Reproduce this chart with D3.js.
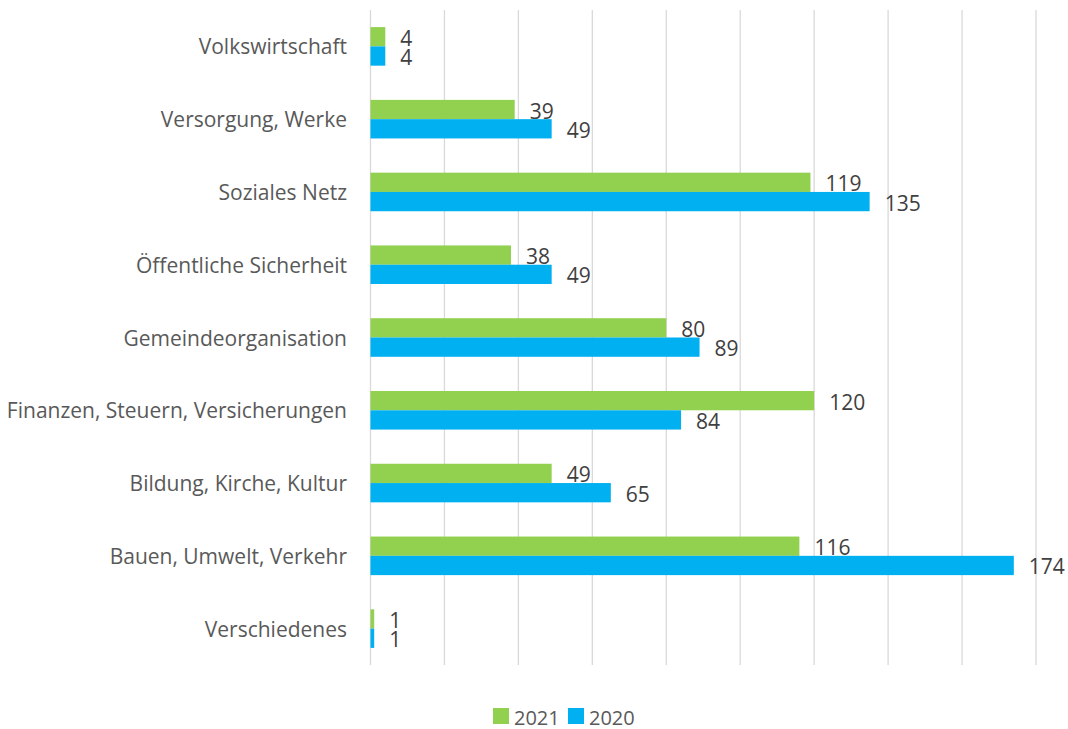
<!DOCTYPE html>
<html>
<head>
<meta charset="utf-8">
<script src="https://cdn.jsdelivr.net/npm/d3@7"></script>
<style>
  body { margin: 0; background: #fff; }
  text { font-family: "Open Sans", Lato, sans-serif; }
</style>
</head>
<body>
<svg id="chart"></svg>
<script>
const categories = ["Volkswirtschaft", "Versorgung, Werke", "Soziales Netz", "Öffentliche Sicherheit",
  "Gemeindeorganisation", "Finanzen, Steuern, Versicherungen", "Bildung, Kirche, Kultur",
  "Bauen, Umwelt, Verkehr", "Verschiedenes"]
const values2021 = [4, 39, 119, 38, 80, 120, 49, 116, 1]
const values2020 = [4, 49, 135, 49, 89, 84, 65, 174, 1]
const seriesNames = ["2021", "2020"]
const gridTicks = [0, 20, 40, 60, 80, 100, 120, 140, 160, 180]

const w = 1068, h = 729
const colors = { "2021": "#92D050", "2020": "#00B0F0" }

const svg = d3.select("#chart")
  .attr("width", w)
  .attr("height", h)

const xScale = d3.scaleLinear()
  .domain([0, 180])
  .range([370.5, 1036])

const yScale = d3.scaleBand()
  .domain(categories)
  .range([10, 665])
  .paddingInner(0.47)
  .paddingOuter(0.235)

const sub = d3.scaleBand()
  .domain(seriesNames)
  .range([0, yScale.bandwidth()])

// gridlines
svg.append("g")
  .selectAll("line")
  .data(gridTicks)
  .join("line")
  .attr("x1", d => xScale(d))
  .attr("x2", d => xScale(d))
  .attr("y1", 10)
  .attr("y2", 665)
  .attr("stroke", "#D9D9D9")
  .attr("stroke-width", 1.3)

const rows = categories.map((c, i) => ({ cat: c, "2021": values2021[i], "2020": values2020[i] }))

const groups = svg.append("g")
  .selectAll("g")
  .data(rows)
  .join("g")
  .attr("transform", d => "translate(0," + yScale(d.cat) + ")")

groups.selectAll("rect")
  .data(d => seriesNames.map(s => ({ s: s, v: d[s] })))
  .join("rect")
  .attr("x", xScale(0))
  .attr("y", d => sub(d.s))
  .attr("width", d => xScale(d.v) - xScale(0))
  .attr("height", sub.bandwidth())
  .attr("fill", d => colors[d.s])

groups.selectAll("text.val")
  .data(d => seriesNames.map(s => ({ s: s, v: d[s] })))
  .join("text")
  .attr("class", "val")
  .attr("x", d => xScale(d.v) + 15)
  .attr("y", d => sub(d.s) + sub.bandwidth() / 2 + 1)
  .attr("dominant-baseline", "central")
  .attr("font-size", 21)
  .attr("fill", "#404040")
  .text(d => d.v)

// category labels
svg.append("g")
  .selectAll("text")
  .data(categories)
  .join("text")
  .attr("x", 347)
  .attr("y", d => yScale(d) + yScale.bandwidth() / 2)
  .attr("text-anchor", "end")
  .attr("dominant-baseline", "central")
  .attr("font-size", 21)
  .attr("fill", "#595959")
  .text(d => d)

// legend
const legend = svg.append("g").attr("transform", "translate(493,716)")
const legendX = [0, 75]
seriesNames.forEach((s, i) => {
  legend.append("rect")
    .attr("x", legendX[i])
    .attr("y", -8)
    .attr("width", 16)
    .attr("height", 16)
    .attr("fill", colors[s])
  legend.append("text")
    .attr("x", legendX[i] + 21)
    .attr("y", 1)
    .attr("dominant-baseline", "central")
    .attr("font-size", 20)
    .attr("fill", "#595959")
    .text(s)
})
</script>
</body>
</html>
